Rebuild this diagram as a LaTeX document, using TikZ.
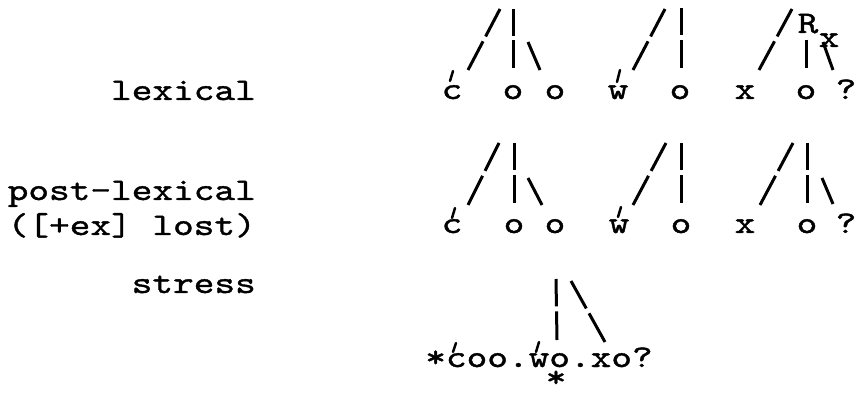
\documentclass[tikz,border=0pt]{standalone}
\usepackage{fontspec}
\setmonofont{lmmono10-regular.otf}[FakeStretch=1.25,FakeBold=1.2]
\usetikzlibrary{calc}
\tikzset{
  tw/.style={font=\ttfamily\fontsize{31.5}{31.5}\selectfont, inner sep=0pt},
  ch/.style={tw, anchor=base},
  lbl/.style={tw, anchor=base east},
  br/.style={line width=3pt, line cap=butt},
  acc/.style={line width=2.5pt, line cap=round},
}
\newcommand{\branch}[2]{\draw[br] (#1) -- ($(#1)!0.45!(#2)$); \draw[br] ($(#1)!0.53!(#2)$) -- (#2);}
\begin{document}
\begin{tikzpicture}[x=1pt,y=-1pt]
\useasboundingbox (0,0) rectangle (859,395);
% labels
\node[lbl] (l1) at (256,100) {lexical};
\node[lbl] (l2) at (256,200) {post-lexical};
\node[lbl] (l3) at (256,235) {([+ex] lost)};
\node[lbl] (l4) at (256,293) {stress};
% row 1 letters
\node[ch] (c1) at (452,99) {c};
\node[ch] (o1a) at (513,99) {o};
\node[ch] (o1b) at (555,99) {o};
\node[ch] (w1) at (618,99) {w};
\node[ch] (o1c) at (680,99) {o};
\node[ch] (x1) at (745,99) {x};
\node[ch] (o1d) at (806,99) {o};
\node[ch] (q1) at (846,99) {?};
\node[ch] (R1) at (808,33) {R};
\node[ch] (xs1) at (829,47) {x};
% row 1 accents
\coordinate (c1a) at (450,81); \coordinate (c1b) at (453,71);
\coordinate (w1a) at (617,82); \coordinate (w1b) at (620,70);
\draw[acc] (c1a) -- (c1b);
\draw[acc] (w1a) -- (w1b);
% row 1 trees
\coordinate (a1s) at (500,9);  \coordinate (a1sb) at (468,70);
\coordinate (a1v) at (513,9);  \coordinate (a1vb) at (513,68);
\coordinate (a1b) at (528,42); \coordinate (a1bb) at (540,70);
\branch{a1s}{a1sb}
\branch{a1v}{a1vb}
\draw[br] (a1b) -- (a1bb);
\coordinate (b1s) at (665,9);  \coordinate (b1sb) at (633,70);
\coordinate (b1v) at (681,8);  \coordinate (b1vb) at (681,68);
\branch{b1s}{b1sb}
\branch{b1v}{b1vb}
\coordinate (d1s) at (792,9);  \coordinate (d1sb) at (759,70);
\coordinate (d1v) at (806,40); \coordinate (d1vb) at (806,68);
\coordinate (d1b) at (823,42); \coordinate (d1bb) at (833,70);
\branch{d1s}{d1sb}
\draw[br] (d1v) -- (d1vb);
\draw[br] (d1b) -- (d1bb);
% row 2 letters
\node[ch] (c2) at (452,233) {c};
\node[ch] (o2a) at (514,233) {o};
\node[ch] (o2b) at (555,233) {o};
\node[ch] (w2) at (619,233) {w};
\node[ch] (o2c) at (681,233) {o};
\node[ch] (x2) at (745,233) {x};
\node[ch] (o2d) at (807,233) {o};
\node[ch] (q2) at (846,233) {?};
\coordinate (c2a) at (452,218); \coordinate (c2b) at (455,208);
\coordinate (w2a) at (618,217); \coordinate (w2b) at (621,207);
\draw[acc] (c2a) -- (c2b);
\draw[acc] (w2a) -- (w2b);
% row 2 trees
\coordinate (a2s) at (499,143); \coordinate (a2sb) at (468,205);
\coordinate (a2v) at (514,143); \coordinate (a2vb) at (514,203);
\coordinate (a2b) at (528,178); \coordinate (a2bb) at (542,205);
\branch{a2s}{a2sb}
\branch{a2v}{a2vb}
\draw[br] (a2b) -- (a2bb);
\coordinate (b2s) at (666,143); \coordinate (b2sb) at (633,205);
\coordinate (b2v) at (681,143); \coordinate (b2vb) at (681,203);
\branch{b2s}{b2sb}
\branch{b2v}{b2vb}
\coordinate (d2s) at (793,143); \coordinate (d2sb) at (760,205);
\coordinate (d2v) at (807,143); \coordinate (d2vb) at (807,203);
\coordinate (d2b) at (822,178); \coordinate (d2bb) at (833,204);
\branch{d2s}{d2sb}
\branch{d2v}{d2vb}
\draw[br] (d2b) -- (d2bb);
% row 3
\node[ch] (s3) at (539,367) {*coo.wo.xo?};
\coordinate (c3a) at (453,352); \coordinate (c3b) at (456,343);
\coordinate (w3a) at (536,352); \coordinate (w3b) at (539,342);
\draw[acc] (c3a) -- (c3b);
\draw[acc] (w3a) -- (w3b);
\coordinate (e3v) at (556,279); \coordinate (e3vb) at (557,340);
\coordinate (e3b) at (571,281); \coordinate (e3bb) at (605,342);
\branch{e3v}{e3vb}
\branch{e3b}{e3bb}
\node[ch] (st) at (556,387) {*};
\end{tikzpicture}
\end{document}
